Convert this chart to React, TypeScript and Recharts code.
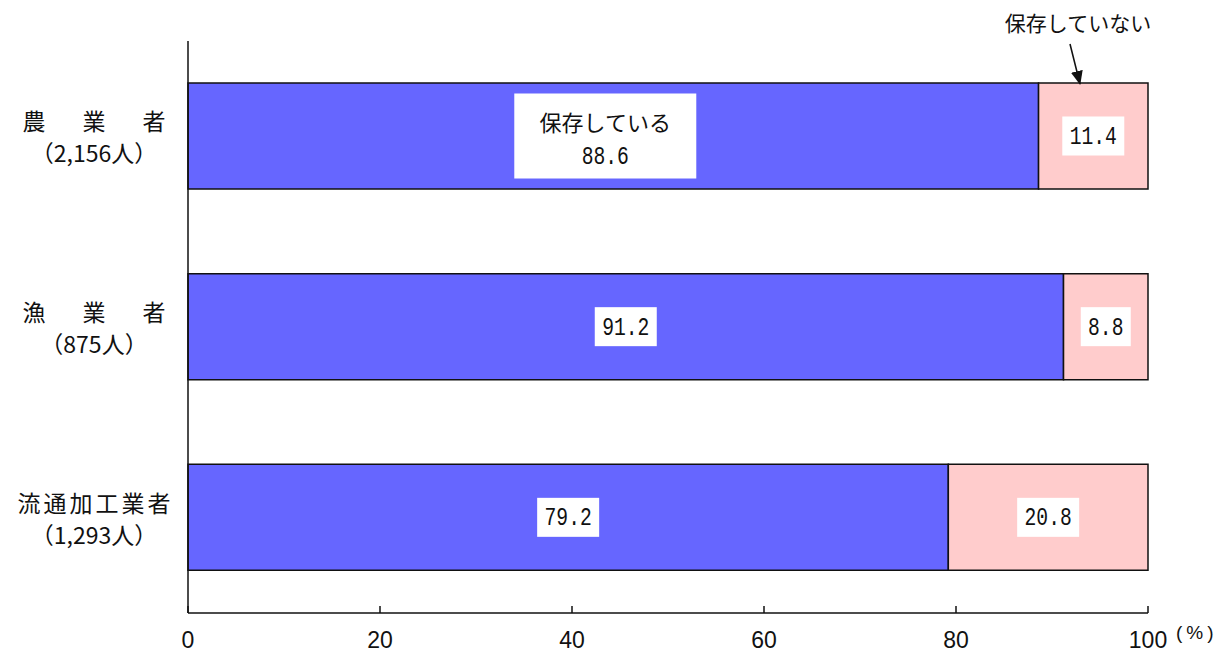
import { BarChart, Bar, XAxis, YAxis, LabelList } from 'recharts';

const categories = ['農　業　者', '漁　業　者', '流通加工業者'];
const respondents = ['（2,156人）', '（875人）', '（1,293人）'];
const saved = [88.6, 91.2, 79.2];
const notSaved = [11.4, 8.8, 20.8];
const xTicks = [0, 20, 40, 60, 80, 100];

const data = categories.map((name, i) => ({
  name,
  count: respondents[i],
  saved: saved[i],
  notSaved: notSaved[i],
}));

const JP = '"Noto Sans CJK JP", sans-serif';
const SANS = '"Liberation Sans", Arial, sans-serif';
const MONO = '"Liberation Mono", "DejaVu Sans Mono", monospace';
const noTrim = { textSpacingTrim: 'space-all' } as any;

const NumText = ({ x, y, label }: { x: number; y: number; label: string }) => (
  <text
    x={x}
    y={y}
    textAnchor="middle"
    fontFamily={MONO}
    fontSize={25}
    fill="#111"
    textLength={label.length * 11.8}
    lengthAdjust="spacingAndGlyphs"
  >
    {label}
  </text>
);

const ValueBox = (props: any) => {
  const { x, y, width, height, value, index, withCaption } = props;
  const cx = x + width / 2;
  const cy = y + height / 2;
  const label = value.toFixed(1);
  if (withCaption && index === 0) {
    const w = 182;
    const h = 85;
    return (
      <g>
        <rect x={cx - w / 2 - 8} y={cy - h / 2} width={w} height={h} fill="#fff" />
        <text x={cx - 8} y={cy - 5} textAnchor="middle" fontFamily={JP} fontSize={22} fill="#111">
          保存している
        </text>
        <NumText x={cx - 8} y={cy + 28} label={label} />
      </g>
    );
  }
  const w = label.length * 12 + 14;
  const h = 39;
  return (
    <g>
      <rect x={cx - w / 2} y={cy - h / 2} width={w} height={h} fill="#fff" />
      <NumText x={cx} y={cy + 8} label={label} />
    </g>
  );
};

const CategoryTick = (props: any) => {
  const { y, payload, index } = props;
  const name: string = payload.value;
  const spaced = name.includes('　');
  return (
    <g>
      <text
        x={94}
        y={y - 6}
        textAnchor="middle"
        fontFamily={JP}
        fontSize={23}
        fill="#111"
        textLength={spaced ? 143 : 153}
        lengthAdjust="spacing"
      >
        {name}
      </text>
      <text x={94} y={y + 26} textAnchor="middle" fontFamily={JP} fontSize={23} fill="#111" style={noTrim}>
        {respondents[index]}
      </text>
    </g>
  );
};

const ValueTick = (props: any) => {
  const { x, y, payload } = props;
  return (
    <g>
      <line x1={x} x2={x} y1={y - 7} y2={y} stroke="#111" strokeWidth={1.5} />
      <text x={x} y={y + 35} textAnchor="middle" fontFamily={SANS} fontSize={23} fill="#111">
        {payload.value}
      </text>
    </g>
  );
};

export default function App() {
  return (
    <div style={{ position: 'absolute', left: 0, top: 0, width: 1222, height: 653, background: '#fff' }}>
      <BarChart
        width={1222}
        height={653}
        data={data}
        layout="vertical"
        margin={{ top: 41, right: 74, bottom: 0, left: 0 }}
        barSize={106}
      >
        <XAxis
          type="number"
          domain={[0, 100]}
          ticks={xTicks}
          height={40}
          tickSize={0}
          tickMargin={0}
          tickLine={false}
          axisLine={{ stroke: '#111', strokeWidth: 1.5 }}
          tick={<ValueTick />}
          interval={0}
        />
        <YAxis
          type="category"
          dataKey="name"
          width={188}
          tickLine={false}
          tickSize={0}
          axisLine={{ stroke: '#111', strokeWidth: 1.5 }}
          tick={<CategoryTick />}
        />
        <Bar dataKey="saved" stackId="a" fill="#6666FF" stroke="#111" strokeWidth={1.5} isAnimationActive={false}>
          <LabelList dataKey="saved" content={<ValueBox withCaption />} />
        </Bar>
        <Bar dataKey="notSaved" stackId="a" fill="#FFCCCC" stroke="#111" strokeWidth={1.5} isAnimationActive={false}>
          <LabelList dataKey="notSaved" content={<ValueBox />} />
        </Bar>
      </BarChart>
      <div
        style={{
          position: 'absolute',
          left: 998,
          top: 8,
          width: 160,
          textAlign: 'center',
          fontFamily: JP,
          fontSize: 21,
          color: '#111',
          lineHeight: '28px',
        }}
      >
        保存していない
      </div>
      <svg style={{ position: 'absolute', left: 0, top: 0, pointerEvents: 'none' }} width={1222} height={653}>
        <defs>
          <marker id="arrowHead" markerWidth="14" markerHeight="12" refX="13" refY="6" orient="auto" markerUnits="userSpaceOnUse">
            <path d="M0,0 L14,6 L0,12 Z" fill="#111" />
          </marker>
        </defs>
        <line x1={1070} y1={44} x2={1080} y2={84} stroke="#111" strokeWidth={1.5} markerEnd="url(#arrowHead)" />
        <text x={1176} y={639} fontFamily={SANS} fontSize={19} fill="#111" letterSpacing={4}>
          (%)
        </text>
      </svg>
    </div>
  );
}
